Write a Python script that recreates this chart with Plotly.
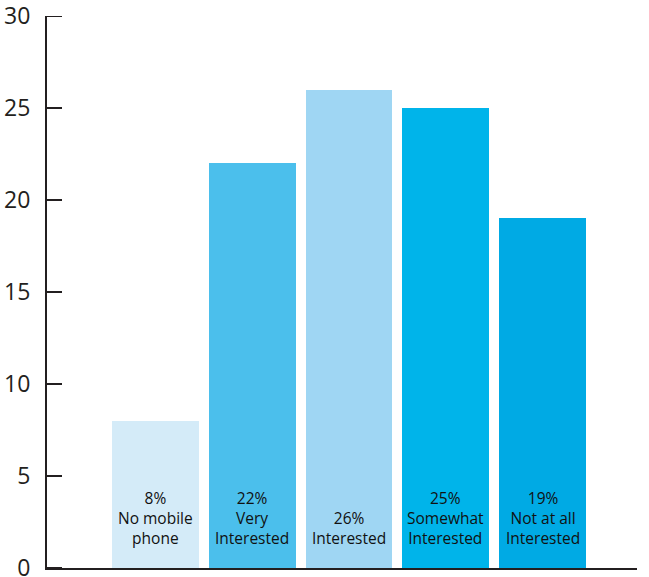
import plotly.graph_objects as go

# Survey responses: share of respondents per interest level (%)
categories = ["No mobile<br>phone", "Very<br>Interested", "Interested",
              "Somewhat<br>Interested", "Not at all<br>Interested"]
values = [8, 22, 26, 25, 19]
bar_colors = ["#d4ebf8", "#4bbfec", "#9fd6f3", "#00b4ea", "#00aae4"]
y_ticks = [0, 5, 10, 15, 20, 25, 30]

positions = list(range(len(values)))
ink = "#231f20"
plot_w = 649 - 47 - 12
tick_len_px = 15

fig = go.Figure()
fig.add_trace(go.Bar(
    x=positions,
    y=values,
    width=0.897,
    marker=dict(color=bar_colors, line=dict(width=0)),
    hoverinfo="skip",
))

# Value + category caption placed inside the foot of each bar
for pos, val, cat in zip(positions, values, categories):
    fig.add_annotation(
        x=pos, y=0, xref="x", yref="y",
        text=f"{val}%<br>{cat}",
        showarrow=False,
        yanchor="bottom", xanchor="center",
        yshift=17,
        align="center",
        font=dict(family="Open Sans", size=15.5, color="#111111"),
    )

# Short tick marks pointing into the plot from the y axis
for t in y_ticks:
    fig.add_shape(
        type="line", xref="paper", yref="y",
        x0=0, x1=tick_len_px / plot_w, y0=t, y1=t,
        line=dict(color=ink, width=2),
        layer="above",
    )

fig.update_layout(
    width=649, height=577,
    margin=dict(l=47, r=12, t=16, b=9, autoexpand=False),
    paper_bgcolor="white",
    plot_bgcolor="white",
    showlegend=False,
    bargap=0,
    xaxis=dict(
        range=[-1.118, 4.974],
        showticklabels=False,
        ticks="",
        showgrid=False,
        zeroline=False,
        showline=True,
        linecolor=ink,
        linewidth=2,
        automargin=False,
    ),
    yaxis=dict(
        range=[0, 30],
        tickvals=y_ticks,
        ticks="",
        showgrid=False,
        zeroline=False,
        showline=True,
        linecolor=ink,
        linewidth=2,
        automargin=False,
        ticklabelstandoff=10,
        ticklabeloverflow="allow",
        tickfont=dict(family="Open Sans", size=23, color=ink),
    ),
)

fig.write_html("out.html")
